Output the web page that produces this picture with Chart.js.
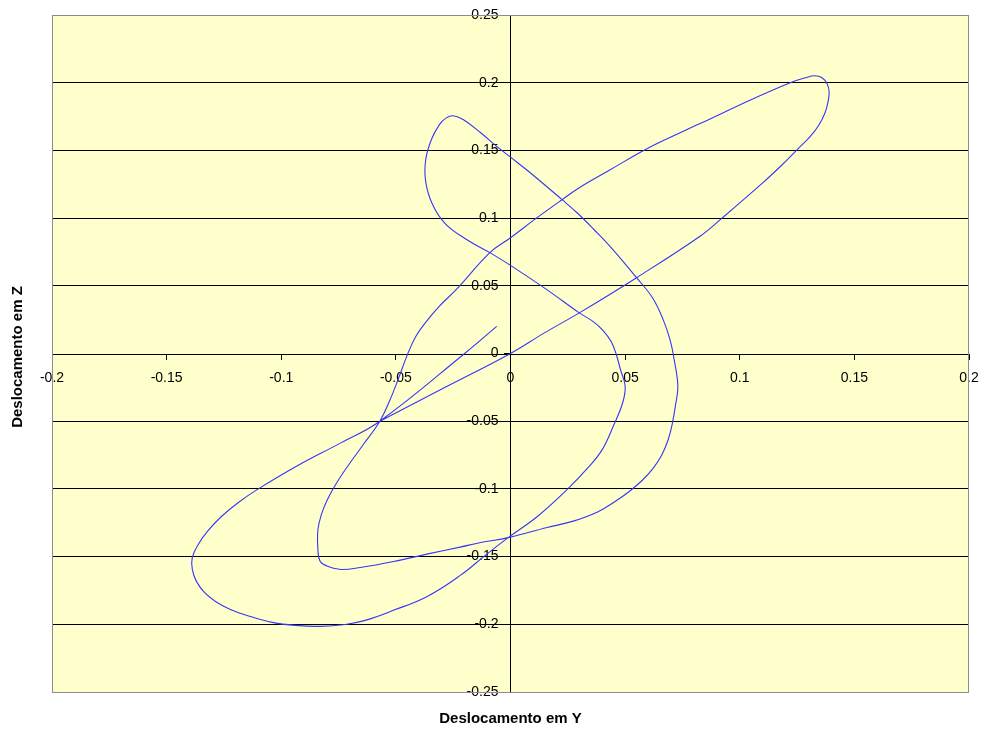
<!DOCTYPE html>
<html>
<head>
<meta charset="utf-8">
<title>Deslocamento em Y x Z</title>
<script src="https://cdn.jsdelivr.net/npm/chart.js@4.4.1/dist/chart.umd.min.js"></script>
<style>
  html, body { margin: 0; padding: 0; background: #ffffff; }
  #wrap { width: 986px; height: 731px; position: relative; }
</style>
</head>
<body>
<div id="wrap"><canvas id="orbitChart" width="986" height="731"></canvas></div>
<script>
// orbit trace (horizontal = Y, vertical = Z)
// one line per stretch of the curve, same order in both arrays
const dispY = [
  -0.006, -0.020, -0.057,
  -0.074, -0.092, -0.110, -0.1187, -0.1261, -0.1322, -0.1362, -0.1388, -0.1388, -0.137, -0.1335, -0.1287,
  -0.1222, -0.1135, -0.1039, -0.0939, -0.083, -0.0721, -0.0634, -0.0511, -0.0363, -0.0219, -0.011, -0.001,
  0.012, 0.025, 0.034, 0.040, 0.045, 0.049, 0.050, 0.048, 0.046, 0.0439, 0.0404, 0.0361, 0.030, 0.016, 0.001,
  -0.009, -0.019, -0.0285, -0.034, -0.037, -0.037, -0.0345, -0.031, -0.028, -0.025, -0.0205, -0.013, -0.006,
  0.000, 0.0086, 0.0225, 0.0295, 0.0365, 0.0439, 0.055,
  0.062, 0.0666, 0.0696, 0.0714, 0.073, 0.072, 0.0705, 0.0688, 0.0661, 0.0622, 0.0574, 0.0518, 0.0456,
  0.038, 0.027, 0.016, -0.001,
  -0.013, -0.022, -0.036, -0.051, -0.0655, -0.074, -0.080, -0.083, -0.084, -0.084, -0.0825, -0.0799,
  -0.076, -0.0708, -0.0642, -0.057,
  -0.0525, -0.049, -0.045, -0.0415, -0.037, -0.031, -0.0235, -0.009, 0.000, 0.011, 0.0225, 0.030,
  0.0435, 0.0587, 0.074, 0.088, 0.103, 0.122, 0.1285, 0.1328, 0.1359, 0.1381, 0.139, 0.1385, 0.1372,
  0.1346, 0.1307, 0.1254, 0.1185, 0.110, 0.092, 0.083, 0.055, 0.030, 0.015, 0.000, -0.0285, -0.057
];
const dispZ = [
  0.020, 0.000, -0.050,
  -0.066, -0.082, -0.100, -0.110, -0.1204, -0.1314, -0.141, -0.1506, -0.1595, -0.1683, -0.1765, -0.1831,
  -0.189, -0.1942, -0.1986, -0.2008, -0.2015, -0.2001, -0.1971, -0.1897, -0.1794, -0.1639, -0.1491, -0.136,
  -0.120, -0.100, -0.084, -0.071, -0.053, -0.036, -0.024, -0.012, 0.000, 0.0088, 0.0169, 0.0235, 0.030, 0.047, 0.064,
  0.0745, 0.084, 0.096, 0.110, 0.127, 0.143, 0.158, 0.169, 0.174, 0.1756, 0.1726, 0.163, 0.153,
  0.145, 0.1335, 0.1136, 0.1032, 0.0914, 0.0782, 0.056,
  0.041, 0.025, 0.010, -0.0045, -0.024, -0.038, -0.0525, -0.0635, -0.0746, -0.0849, -0.0938, -0.1019, -0.1093,
  -0.117, -0.124, -0.1285, -0.136,
  -0.1396, -0.143, -0.148, -0.1536, -0.158, -0.1595, -0.157, -0.1536, -0.145, -0.130, -0.119, -0.108,
  -0.096, -0.0827, -0.0672, -0.050,
  -0.034, -0.019, -0.001, 0.012, 0.023, 0.035, 0.0475, 0.0745, 0.0855, 0.0996, 0.1136, 0.1224,
  0.1357, 0.1505, 0.163, 0.174, 0.186, 0.200, 0.2036, 0.2051, 0.2036, 0.1992, 0.1933, 0.1859, 0.1778,
  0.1689, 0.1601, 0.1512, 0.1394, 0.126, 0.0996, 0.087, 0.056, 0.030, 0.0154, 0.000, -0.025, -0.050
];

const yAxisRange = { min: -0.2, max: 0.2, step: 0.05 };
const zAxisRange = { min: -0.25, max: 0.25, step: 0.05 };
const titleY = 'Deslocamento em Y';
const titleZ = 'Deslocamento em Z';

const points = dispY.map((v, i) => ({ x: v, y: dispZ[i] }));
const fmt = v => String(Number(v.toFixed(2)));
const tickFont = { family: '"Liberation Sans", Arial, sans-serif', size: 14 };

// edge labels may hang outside the plot, so drop the extra room the scales ask for
const noEdgePadding = s => {
  s.paddingLeft = 0;
  s.paddingRight = 0;
  s.paddingTop = 0;
  s.paddingBottom = 0;
};

// yellow plot area, grey frame and the two axis titles
const frame = {
  id: 'frame',
  beforeDraw(chart) {
    const { ctx, chartArea: a } = chart;
    ctx.save();
    ctx.fillStyle = '#ffffcc';
    ctx.fillRect(a.left, a.top, a.right - a.left, a.bottom - a.top);
    ctx.restore();
  },
  afterDraw(chart) {
    const { ctx, chartArea: a } = chart;
    ctx.save();
    ctx.strokeStyle = '#8c8c8c';
    ctx.lineWidth = 1;
    ctx.strokeRect(a.left + 0.5, a.top + 0.5, a.right - a.left - 1, a.bottom - a.top);
    ctx.fillStyle = '#000';
    ctx.font = 'bold 15px "Liberation Sans", Arial, sans-serif';
    ctx.textAlign = 'center';
    ctx.textBaseline = 'middle';
    ctx.fillText(titleY, (a.left + a.right) / 2, 719);
    ctx.translate(18, 357);
    ctx.rotate(-Math.PI / 2);
    ctx.fillText(titleZ, 0, 0);
    ctx.restore();
  },
};

// no grid line on the frame edges or on top of the Y axis line
const gridColor = c => {
  const v = Math.abs(c.tick.value);
  return (Math.abs(v - zAxisRange.max) < 1e-9 || v < 1e-9) ? 'rgba(0,0,0,0)' : '#000';
};

new Chart(document.getElementById('orbitChart'), {
  type: 'scatter',
  data: {
    datasets: [{
      data: points,
      showLine: true,
      borderColor: '#3636f5',
      borderWidth: 1.1,
      pointRadius: 0,
      pointHoverRadius: 0,
      tension: 0.4,
      fill: false,
    }],
  },
  options: {
    responsive: false,
    animation: false,
    layout: { padding: { left: 52, right: 17, top: 15, bottom: 39 } },
    plugins: { legend: { display: false }, tooltip: { enabled: false } },
    scales: {
      x: {
        type: 'linear',
        position: 'center',
        min: yAxisRange.min,
        max: yAxisRange.max,
        afterFit: noEdgePadding,
        ticks: { stepSize: yAxisRange.step, color: '#000', padding: 11, maxRotation: 0, font: tickFont, callback: fmt },
        grid: { drawOnChartArea: false, drawTicks: true, tickLength: 5, tickColor: '#000' },
        border: { display: true, color: '#000', width: 1 },
      },
      y: {
        type: 'linear',
        position: 'center',
        min: zAxisRange.min,
        max: zAxisRange.max,
        afterFit: noEdgePadding,
        ticks: { stepSize: zAxisRange.step, color: '#000', padding: 6, font: tickFont, callback: fmt },
        grid: { color: gridColor, lineWidth: 1, drawTicks: true, tickLength: 6, tickColor: '#000' },
        border: { display: true, color: '#000', width: 1 },
      },
    },
  },
  plugins: [frame],
});
</script>
</body>
</html>
